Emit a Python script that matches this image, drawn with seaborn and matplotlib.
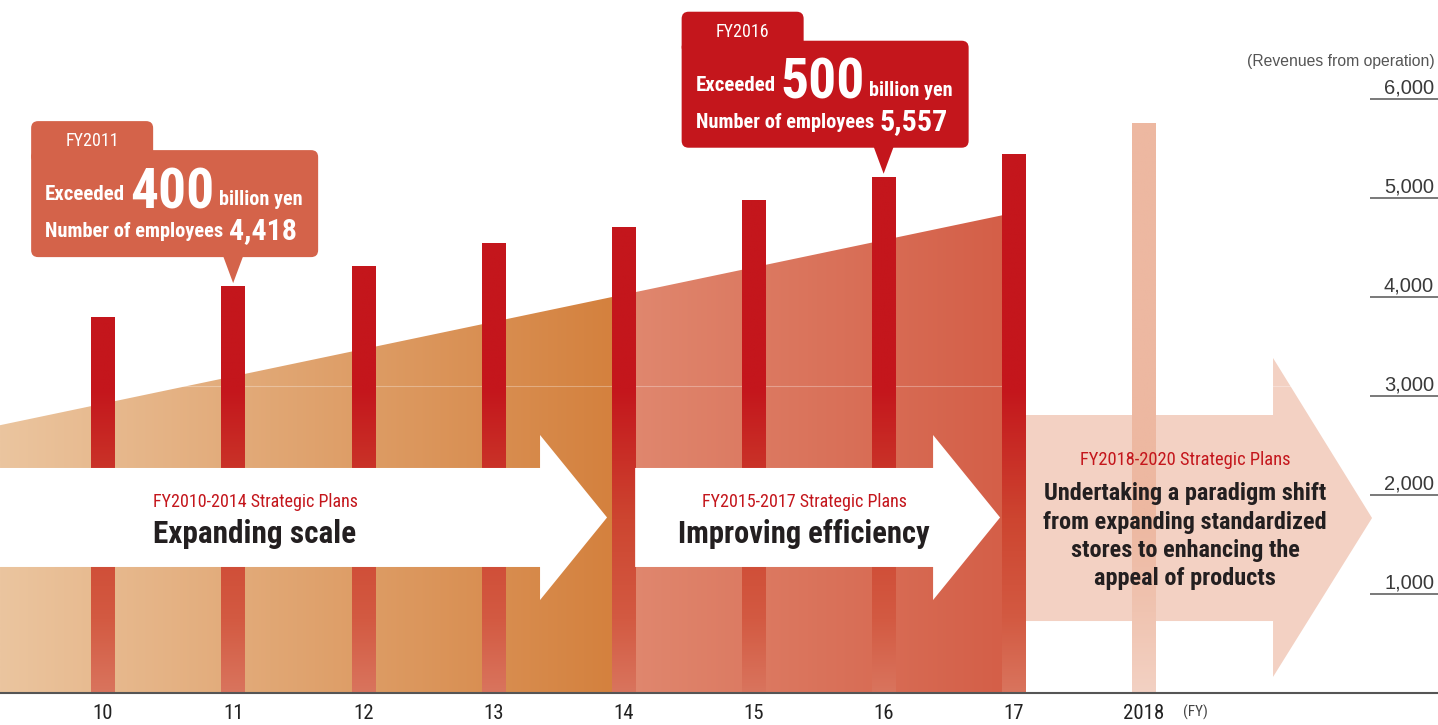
import numpy as np
import pandas as pd
import matplotlib
matplotlib.use("Agg")
import matplotlib.pyplot as plt
import seaborn as sns
from matplotlib import transforms
from matplotlib.colors import LinearSegmentedColormap
from matplotlib.patches import Polygon, FancyBboxPatch

# Revenues from operation by fiscal year (100 million yen)
years = ["10", "11", "12", "13", "14", "15", "16", "17", "2018"]
revenues = [3790, 4105, 4310, 4540, 4700, 4975, 5210, 5440, 5750]
y_ticks = [1000, 2000, 3000, 4000, 5000, 6000]
y_tick_labels = ["1,000", "2,000", "3,000", "4,000", "5,000", "6,000"]
trend_band = [2700, 4820]          # guide level at the left edge and at FY17

plan_periods = ["FY2010-2014 Strategic Plans",
                "FY2015-2017 Strategic Plans",
                "FY2018-2020 Strategic Plans"]
plan_themes = ["Expanding scale",
               "Improving efficiency",
               "Undertaking a paradigm shift\nfrom expanding standardized\n"
               "stores to enhancing the\nappeal of products"]

callout_years = ["FY2011", "FY2016"]
callout_bars = ["11", "16"]
callout_milestones = ["400", "500"]
callout_employees = ["4,418", "5,557"]

sns.set_style("white")
COND = ["Roboto Condensed", "Liberation Sans Narrow", "DejaVu Sans"]
PLAIN = ["Liberation Sans", "DejaVu Sans"]
plt.rcParams["font.family"] = COND

RED = "#C4161C"
PALE = "#EDB8A1"
W = 0.18
XMIN, XMAX = -0.792, 10.261
YMAX = 6995

fig = plt.figure(figsize=(14.38, 7.25), dpi=100)
ax = fig.add_axes([0, 32.5 / 725, 1, 692.5 / 725])

df = pd.DataFrame({"year": years, "revenue": revenues})
palette = {y: RED for y in years}
palette["2018"] = PALE
sns.barplot(data=df, x="year", y="revenue", hue="year", order=years,
            hue_order=years, palette=palette, width=W, saturation=1,
            legend=False, linewidth=0, ax=ax, zorder=2)
ax.set_xlim(XMIN, XMAX)
ax.set_ylim(0, YMAX)

# each bar is painted with a vertical ramp: solid colour on top, fading
# toward the baseline
red_stops = [(0, "#D9745D"), (730, "#D35A42"), (1750, "#CD4530"), (3050, RED)]
pale_stops = [(0, "#F3D1C3"), (800, "#F0C4B1"), (1700, PALE)]
for patch, year in zip(ax.patches, years):
    stops = pale_stops if year == "2018" else red_stops
    h = patch.get_height()
    cmap = LinearSegmentedColormap.from_list(
        "ramp", [(v / h, c) for v, c in stops] + [(1.0, stops[-1][1])])
    x0 = patch.get_x()
    grad = np.linspace(0, 1, 512).reshape(-1, 1)
    im = ax.imshow(grad, extent=(x0, x0 + patch.get_width(), 0, h),
                   origin="lower", aspect="auto", cmap=cmap,
                   zorder=2.1, interpolation="bilinear")
    patch.set_facecolor("none")
    im.set_clip_path(patch)

i14, i17 = years.index("14"), years.index("17")


def trend(x):
    x17 = i17 - W / 2
    return trend_band[0] + (trend_band[1] - trend_band[0]) * (x - XMIN) / (x17 - XMIN)


def band(x_left, x_right, c0, c1, x_fade_end):
    verts = [(x_left, 0), (x_left, trend(x_left)), (x_right, trend(x_right)), (x_right, 0)]
    poly = Polygon(verts, closed=True, facecolor="none", edgecolor="none")
    ax.add_patch(poly)
    grad = np.linspace(0, 1, 256).reshape(1, -1)
    im = ax.imshow(grad, extent=(x_left, x_fade_end, 0, trend(x_right)),
                   origin="lower", aspect="auto",
                   cmap=LinearSegmentedColormap.from_list("b", [c0, c1]),
                   zorder=1, interpolation="bilinear")
    im.set_clip_path(poly)


# the two plan periods meet under the FY14 bar; the right one ends under FY17
band(XMIN, i14, "#EBC59F", "#D4813E", i14 - W / 2)
band(i14, i17, "#E0886F", "#D45F48", i17 - W / 2)
ax.set_xlim(XMIN, XMAX)
ax.set_ylim(0, YMAX)
ax.axhline(3100, xmin=0, xmax=(9.75 - XMIN) / (XMAX - XMIN), color="white",
           alpha=0.3, lw=0.8, zorder=1.5)


def arrow(x0, xb, xt, body, head, color, z):
    mid = (body[0] + body[1]) / 2
    verts = [(x0, body[0]), (xb, body[0]), (xb, head[0]), (xt, mid),
             (xb, head[1]), (xb, body[1]), (x0, body[1])]
    ax.add_patch(Polygon(verts, closed=True, facecolor=color, edgecolor="none", zorder=z))


arrow(XMIN, 3.359, 3.874, (1268, 2268), (934, 2601), "white", 3)
arrow(i14 + W / 2, 6.38, 6.895, (1268, 2268), (934, 2601), "white", 3)
arrow(i17 + W / 2, 8.993, 9.754, (722, 2803), (157, 3379), "#F3D1C3", 1.2)

# plan captions
for xc, k, size in [(1.168, 0, 22.5), (5.388, 1, 22)]:
    ax.text(xc, 1924, plan_periods[k], color=RED, fontsize=13, ha="center",
            va="center", zorder=4)
    ax.text(xc, 1600, plan_themes[k], color="#231F20", fontsize=size,
            fontweight="bold", ha="center", va="center", zorder=4)
ax.text(8.317, 2348, plan_periods[2], color=RED, fontsize=13.3, ha="center",
        va="center", zorder=4)
ax.text(8.317, 1578, plan_themes[2], color="#231F20", fontsize=17.5,
        fontweight="bold", ha="center", va="center", linespacing=1.3, zorder=4)

# axes styling
for s in ["left", "top", "right"]:
    ax.spines[s].set_visible(False)
ax.spines["bottom"].set_color("#555555")
ax.spines["bottom"].set_linewidth(1.5)
ax.spines["bottom"].set_zorder(5)
ax.set_xlabel("")
ax.set_ylabel("")
ax.set_xticks(range(len(years)))
ax.set_xticklabels(years, fontsize=15, color="#222222")
ax.tick_params(axis="x", length=0, pad=8)
ax.yaxis.tick_right()
ax.set_yticks(y_ticks)
ax.tick_params(axis="y", direction="in", length=49, width=1.1, colors="#555555",
               labelright=False, labelleft=False)
ax.grid(False)
ax.set_facecolor("none")

ybl = transforms.blended_transform_factory(ax.transAxes, ax.transData)
for v, lab in zip(y_ticks, y_tick_labels):
    ax.annotate(lab, xy=(1, v), xycoords=ybl, xytext=(-4, 5),
                textcoords="offset pixels", ha="right", va="baseline",
                fontsize=14.5, color="#3A3A3A", family=PLAIN)
ax.text(0.998, 6369, "(Revenues from operation)", transform=ybl, ha="right",
        va="center", fontsize=11.3, color="#555555", family=PLAIN)
ax.annotate("(FY)", xy=(years.index("2018"), 0), xycoords="data", xytext=(39, -20),
            textcoords="offset pixels", ha="left", va="center", fontsize=11,
            color="#444444", annotation_clip=False)

renderer = fig.canvas.get_renderer()


def run(parts, x, y, target, tr):
    """Place text pieces side by side on one baseline (pixel offsets)."""
    scale = 1.0
    for _ in range(2):
        arts, cx = [], x
        for s, size, dy, gap in parts:
            t = ax.text(cx, y + dy, s, transform=tr, fontsize=size * scale,
                        fontweight="bold", color="white", ha="left",
                        va="baseline", zorder=6)
            w = t.get_window_extent(renderer).width
            cx += w + gap * scale
            arts.append(t)
        total = cx - x - parts[-1][3] * scale
        if total <= target * 1.02:
            return
        for t in arts:
            t.remove()
        scale *= target / total


for k in range(2):
    bi = years.index(callout_bars[k])
    color = "#D4634A" if k == 0 else RED
    tip = ax.transData.transform((bi, revenues[bi])) + np.array([0, 3])
    tr = transforms.Affine2D().translate(*tip)
    ax.add_patch(FancyBboxPatch((-202, 120), 122, 42,
                                boxstyle="round,pad=0,rounding_size=7",
                                facecolor=color, edgecolor="none",
                                transform=tr, zorder=5))
    ax.add_patch(FancyBboxPatch((-202, 26), 287, 107,
                                boxstyle="round,pad=0,rounding_size=7",
                                facecolor=color, edgecolor="none",
                                transform=tr, zorder=5))
    ax.add_patch(Polygon([(-10, 27), (10, 27), (0, 0)], closed=True,
                         facecolor=color, edgecolor="none", transform=tr, zorder=5))
    ax.text(-141, 142, callout_years[k], transform=tr, fontsize=13,
            color="white", ha="center", va="center", zorder=6)
    run([("Exceeded", 15, 0, 5), (callout_milestones[k], 40, -8, 4),
         ("billion yen", 14.5, -5, 0)], -188, 83, 255, tr)
    run([("Number of employees", 14.7, 0, 6), (callout_employees[k], 21.5, -2, 0)],
        -188, 46, 256, tr)

fig.savefig("out.png", dpi=100)
